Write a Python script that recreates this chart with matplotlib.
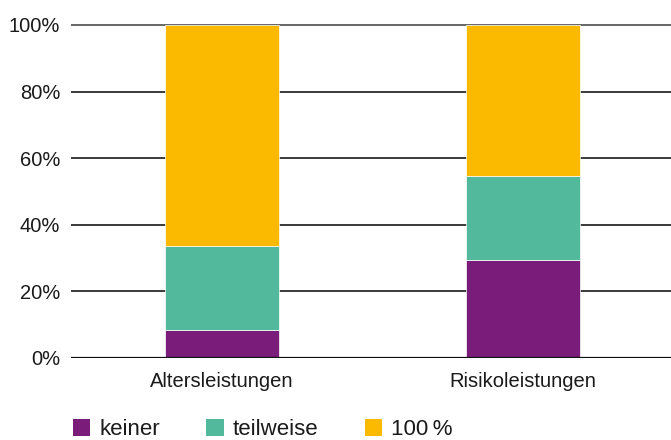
import numpy as np
import matplotlib
matplotlib.use("Agg")
from matplotlib import pyplot as plt
from matplotlib.patches import Patch

# shares per benefit type, in percent
categories = ["Altersleistungen", "Risikoleistungen"]
keiner = [8.4, 29.3]
teilweise = [25.2, 25.4]
voll = [66.4, 45.3]
series_labels = ["keiner", "teilweise", "100\u2009%"]
colors = ["#791c7a", "#52b99c", "#fbb900"]

plt.rcParams['font.family'] = ['Liberation Sans', 'DejaVu Sans']

fig = plt.figure(figsize=(6.71, 4.40), dpi=100)
ax = fig.add_axes([0.106, 0.1864, 0.894, 0.772])

x = np.arange(len(categories))
w = 0.379
bottom = np.zeros(len(categories))
for vals, col in zip([keiner, teilweise, voll], colors):
    ax.bar(x, vals, w, bottom=bottom, color=col, edgecolor="white", linewidth=0.5, zorder=3)
    bottom += np.array(vals)

ax.set_xlim(-0.502, 1.492)
ax.set_ylim(0, 102)
ax.set_yticks([0, 20, 40, 60, 80, 100])
ax.set_yticklabels([f"{t}%" for t in [0, 20, 40, 60, 80, 100]])
ax.set_xticks(x)
ax.set_xticklabels(categories)

for t in [20, 40, 60, 80]:
    ax.axhline(t, color="#3a3a3a", linewidth=1.4, zorder=1)
ax.axhline(100, color="#666666", linewidth=1.4, zorder=1)
ax.axhline(0, color="#111111", linewidth=1.6, zorder=4)

for s in ax.spines.values():
    s.set_visible(False)
ax.tick_params(axis="both", length=0, labelsize=14.5, colors="#1a1a1a")
ax.tick_params(axis="y", pad=8)
ax.tick_params(axis="x", pad=10)

handles = [Patch(facecolor=c, edgecolor="none") for c in colors]
fig.legend(handles, series_labels, loc="lower left", bbox_to_anchor=(0.109, 0.0),
           ncol=3, frameon=False, fontsize=16, handlelength=0.77, handleheight=0.77,
           handletextpad=0.4, columnspacing=2.1, borderaxespad=0, borderpad=0,
           labelcolor="#1a1a1a")

fig.savefig("out.png", dpi=100)
